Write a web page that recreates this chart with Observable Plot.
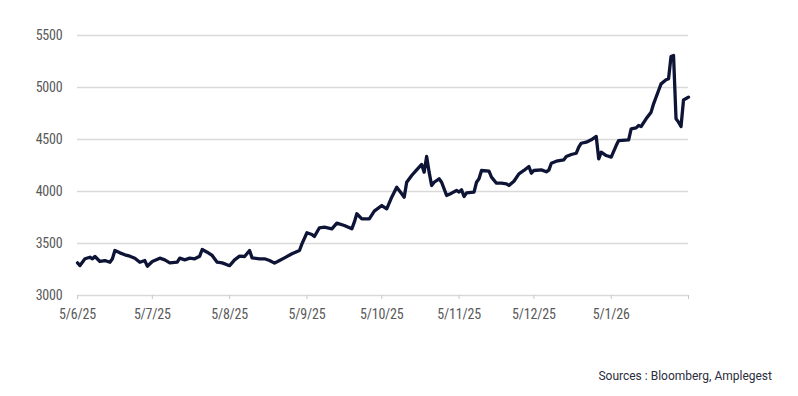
<!DOCTYPE html>
<html>
<head>
<meta charset="utf-8">
<script src="https://cdn.jsdelivr.net/npm/d3@7"></script>
<script src="https://cdn.jsdelivr.net/npm/@observablehq/plot@0.6"></script>
<style>
  html, body { margin: 0; padding: 0; background: #fff; }
  #wrap { position: relative; width: 798px; height: 396px; overflow: hidden; }
  #source { position: absolute; right: 26px; top: 369px; font-family: Roboto, "Noto Sans", sans-serif; font-size: 12px; line-height: 14px; color: #2b2d3c; white-space: nowrap; }
  #chart svg text { letter-spacing: -0.2px; }
</style>
</head>
<body>
<div id="wrap"><div id="chart"></div><div id="source">Sources : Bloomberg, Amplegest</div></div>
<script>
// Price series (date, value)
const dates = [
  "2025-06-05","2025-06-06","2025-06-08","2025-06-10","2025-06-11","2025-06-12","2025-06-14","2025-06-16","2025-06-18","2025-06-19",
  "2025-06-20","2025-06-22","2025-06-24","2025-06-26","2025-06-28","2025-06-30","2025-07-02","2025-07-03","2025-07-05","2025-07-08",
  "2025-07-10","2025-07-12","2025-07-15","2025-07-16","2025-07-18","2025-07-20","2025-07-22","2025-07-24","2025-07-25","2025-07-27",
  "2025-07-29","2025-07-31","2025-08-02","2025-08-04","2025-08-05","2025-08-07","2025-08-09","2025-08-11","2025-08-13","2025-08-14",
  "2025-08-17","2025-08-19","2025-08-21","2025-08-23","2025-08-25","2025-08-27","2025-08-30","2025-09-02","2025-09-03","2025-09-05",
  "2025-09-07","2025-09-08","2025-09-10","2025-09-12","2025-09-15","2025-09-17","2025-09-20","2025-09-23","2025-09-24","2025-09-25",
  "2025-09-27","2025-09-30","2025-10-02","2025-10-05","2025-10-07","2025-10-09","2025-10-11","2025-10-13","2025-10-14","2025-10-15",
  "2025-10-17","2025-10-19","2025-10-21","2025-10-22","2025-10-23","2025-10-24","2025-10-25","2025-10-26","2025-10-28","2025-10-29",
  "2025-10-31","2025-11-02","2025-11-04","2025-11-05","2025-11-06","2025-11-07","2025-11-08","2025-11-11","2025-11-12","2025-11-13",
  "2025-11-14","2025-11-17","2025-11-18","2025-11-20","2025-11-22","2025-11-24","2025-11-25","2025-11-27","2025-11-29","2025-12-01",
  "2025-12-03","2025-12-04","2025-12-05","2025-12-08","2025-12-10","2025-12-11","2025-12-12","2025-12-14","2025-12-17","2025-12-18",
  "2025-12-20","2025-12-22","2025-12-23","2025-12-24","2025-12-26","2025-12-28","2025-12-30","2025-12-31","2026-01-01","2026-01-03",
  "2026-01-05","2026-01-07","2026-01-08","2026-01-12","2026-01-13","2026-01-15","2026-01-16","2026-01-17","2026-01-19","2026-01-21",
  "2026-01-22","2026-01-24","2026-01-25","2026-01-27","2026-01-28","2026-01-29","2026-01-30","2026-01-31","2026-02-01","2026-02-02",
  "2026-02-03","2026-02-05"
];
const values = [
  3314,3288,3353,3368,3353,3375,3327,3336,3320,3353,
  3433,3410,3391,3378,3359,3320,3336,3282,3327,3359,
  3343,3314,3320,3359,3343,3359,3353,3378,3442,3416,
  3385,3320,3314,3295,3288,3343,3378,3375,3433,3362,
  3353,3353,3336,3311,3336,3362,3401,3433,3497,3603,
  3587,3567,3651,3657,3641,3696,3673,3641,3705,3786,
  3737,3737,3811,3865,3833,3945,4041,3978,3945,4089,
  4154,4208,4260,4186,4337,4186,4058,4089,4122,4089,
  3962,3984,4010,3994,4016,3952,3987,3994,4089,4122,
  4202,4195,4138,4080,4080,4074,4058,4099,4170,4202,
  4240,4176,4202,4208,4190,4205,4272,4291,4304,4337,
  4356,4368,4426,4464,4474,4497,4529,4314,4378,4346,
  4330,4442,4490,4497,4603,4612,4635,4625,4699,4763,
  4843,4971,5035,5074,5084,5298,5308,4699,4667,4625,
  4880,4907
];
const yTicks = [3000, 3500, 4000, 4500, 5000, 5500];
const xTickDates = ["2025-06-05","2025-07-05","2025-08-05","2025-09-05","2025-10-05","2025-11-05","2025-12-05","2026-01-05","2026-02-05"];
const xTickLabels = ["5/6/25","5/7/25","5/8/25","5/9/25","5/10/25","5/11/25","5/12/25","5/1/26",""];
const xDomain = ["2025-06-05","2026-02-05"];

const series = dates.map((d, i) => ({date: new Date(d), value: values[i]}));
const tickDates = xTickDates.map(d => new Date(d));
const labelOf = new Map(xTickDates.map((d, i) => [+new Date(d), xTickLabels[i]]));

const font = '"Roboto Condensed", "DejaVu Sans Condensed", sans-serif';

const chart = Plot.plot({
  width: 798,
  height: 396,
  marginLeft: 77,
  marginRight: 110,
  marginTop: 35,
  marginBottom: 101,
  style: {fontFamily: font, fontSize: "14px", color: "#595959", background: "#fff"},
  x: {type: "utc", domain: xDomain.map(d => new Date(d))},
  y: {domain: [3000, 5500]},
  marks: [
    Plot.ruleY(yTicks, {stroke: "#d9d9d9", strokeWidth: 1.3}),
    Plot.axisY({ticks: yTicks, tickSize: 0, tickPadding: 15, label: null, fontSize: 14, fill: "#595959", tickFormat: d => String(d)}),
    Plot.axisX({ticks: tickDates, tickSize: 4, tickPadding: 10, label: null, stroke: "#c8c8c8", fill: "#595959", fontSize: 14, tickFormat: d => labelOf.get(+d)}),
    Plot.line(series, {x: "date", y: "value", stroke: "#0e1436", strokeWidth: 3.3, strokeLinejoin: "round", strokeLinecap: "round"})
  ]
});
document.getElementById("chart").appendChild(chart);
</script>
</body>
</html>
